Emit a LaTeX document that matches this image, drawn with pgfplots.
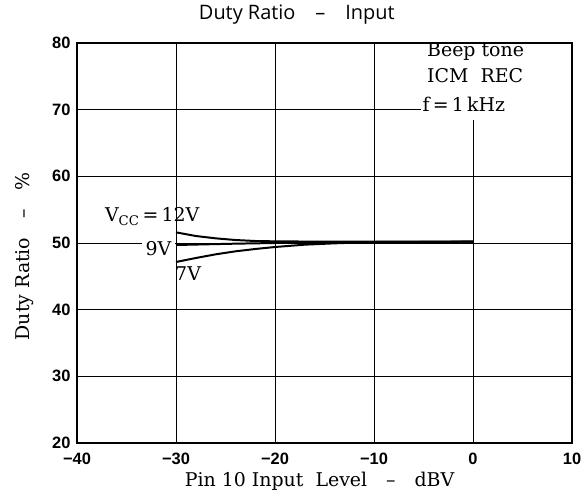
\documentclass[border=0pt]{standalone}
\usepackage{fontspec}
\setmainfont{DejaVu Serif}
\newfontfamily\tickfont{Liberation Sans}
\newfontfamily\titlefont{Open Sans}
\usepackage{pgfplots}
\pgfplotsset{compat=1.18}
\usetikzlibrary{calc}

\pgfplotstableread{
x y
-30 51.6
-28 51.05
-26 50.7
-24 50.45
-22 50.3
-20 50.25
-15 50.2
-10 50.2
0 50.2
}\vtwelve
\pgfplotstableread{
x y
-30 49.7
-27 49.8
-24 49.9
-20 50.0
-15 50.1
-10 50.15
0 50.2
}\vnine
\pgfplotstableread{
x y
-30 47.15
-28 47.75
-26 48.3
-24 48.75
-22 49.1
-20 49.4
-17 49.75
-14 49.95
-11 50.1
0 50.2
}\vseven

\begin{document}
\begin{tikzpicture}
\begin{axis}[
  scale only axis, width=495bp, height=400bp,
  xmin=-40, xmax=10, ymin=20, ymax=80,
  xtick={-40,-30,-20,-10,0,10},
  xticklabels={−40,−30,−20,−10,0,10},
  ytick={20,30,40,50,60,70,80},
  yticklabels={20,30,40,50,60,70,80},
  grid=major,
  major grid style={black, line width=0.7pt},
  axis line style={black, line width=1.1pt},
  major tick length=0pt,
  tick label style={font=\fontsize{16.5}{18}\selectfont\tickfont\bfseries},
  xticklabel style={yshift=-6bp},
  yticklabel style={xshift=-3bp},
  clip=false,
]
\addplot[black, line width=2pt, no marks] table[x=x,y=y] {\vtwelve};
\addplot[black, line width=2pt, no marks] table[x=x,y=y] {\vnine};
\addplot[black, line width=2pt, no marks] table[x=x,y=y] {\vseven};

\fill[white] (axis cs:-5.3,79.8) rectangle (axis cs:9.85,68.45);
\node[font=\fontsize{19}{21}\selectfont, inner sep=0pt, anchor=west] at (axis cs:-4.65,78.65) {Beep tone};
\node[font=\fontsize{19}{21}\selectfont, inner sep=0pt, anchor=west] at (axis cs:-4.65,75.05) {ICM\ \ REC};
\node[font=\fontsize{19}{21}\selectfont, inner sep=0pt, anchor=west] at (axis cs:-5.1,70.85) {f\,=\,1\,kHz};

\node[font=\fontsize{19}{21}\selectfont, anchor=center] at (axis cs:-32.4,53.9) {V$_{\mathrm{CC}}$\,=\,12V};
\node[font=\fontsize{19}{21}\selectfont, fill=white, inner ysep=2bp, inner xsep=4bp, anchor=east] at (axis cs:-30.05,49.2) {9V};
\node[font=\fontsize{19}{21}\selectfont, anchor=west, inner sep=0pt] at (axis cs:-30.1,45.4) {7V};

\node[font=\fontsize{20}{22}\selectfont\titlefont, yshift=28bp] at (axis cs:-17.8,80) {Duty Ratio\quad–\quad Input};
\node[font=\fontsize{19}{21}\selectfont, yshift=-38bp] at (axis cs:-15.5,20) {Pin 10 Input\ \ Level\quad–\quad dBV};
\node[font=\fontsize{19}{21}\selectfont, rotate=90, yshift=52bp] at (axis cs:-40,48.0) {Duty Ratio\quad–\quad\%};
\end{axis}
\pgfresetboundingbox
\useasboundingbox ($(current axis.south west)+(-77bp,-52bp)$) rectangle ($(current axis.north east)+(16bp,43bp)$);
\end{tikzpicture}
\end{document}
